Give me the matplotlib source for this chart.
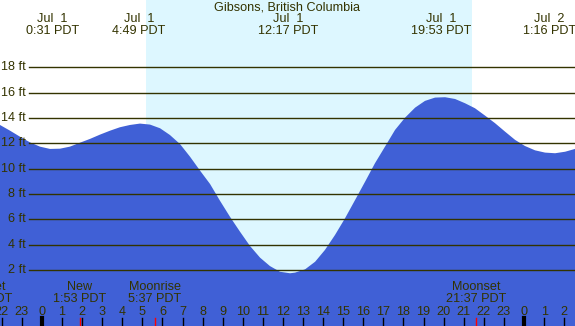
#Librerias
import matplotlib.pyplot as plt
import matplotlib.transforms as mtransforms

#Datos de la marea (hora desde la medianoche del 1 de julio, pies)
horas = [-2.09, -1.59, -1.10, -0.60, -0.10, 0.40, 0.90, 1.39, 1.89, 2.39,
         2.89, 3.39, 3.88, 4.38, 4.88, 5.38, 5.88, 6.37, 6.87, 7.37,
         7.87, 8.37, 8.86, 9.36, 9.86, 10.36, 10.86, 11.35, 11.85, 12.35,
         12.60, 13.10, 13.60, 14.09, 14.59, 15.09, 15.59, 16.09, 16.58, 17.08,
         17.58, 18.08, 18.58, 19.07, 19.57, 20.07, 20.57, 21.07, 21.56, 22.06,
         22.56, 23.06, 23.56, 24.05, 24.55, 25.05, 25.55, 26.05, 26.54]
marea = [13.44, 12.99, 12.52, 12.07, 11.73, 11.55, 11.57, 11.73, 12.04, 12.34,
         12.68, 12.99, 13.26, 13.44, 13.55, 13.47, 13.18, 12.65, 11.94, 10.94,
         9.84, 8.78, 7.47, 6.20, 5.02, 3.89, 2.97, 2.31, 1.86, 1.74,
         1.79, 2.05, 2.65, 3.58, 4.76, 6.08, 7.52, 8.97, 10.42, 11.73,
         13.05, 14.02, 14.81, 15.34, 15.60, 15.63, 15.49, 15.15, 14.76, 14.18,
         13.58, 12.91, 12.26, 11.78, 11.44, 11.26, 11.21, 11.33, 11.55]

#Pleamar y bajamar
horas_extremos = [0.517, 4.817, 12.283, 19.883, 25.267]
fechas_extremos = ["Jul  1", "Jul  1", "Jul  1", "Jul  1", "Jul  2"]
textos_extremos = ["0:31 PDT", "4:49 PDT", "12:17 PDT", "19:53 PDT", "1:16 PDT"]

#Luna
horas_luna = [-3.0, 1.883, 5.617, 21.617]
nombres_luna = ["Moonset", "New", "Moonrise", "Moonset"]
textos_luna = ["20:57 PDT", "1:53 PDT", "5:37 PDT", "21:37 PDT"]

#Amanecer y atardecer
amanecer = 5.18
atardecer = 21.41

niveles = [2, 4, 6, 8, 10, 12, 14, 16, 18]
horas_ticks = list(range(-2, 27))

titulo = "Gibsons, British Columbia"

#Colores
c_noche = "#b0c4de"
c_dia = "#ddf7ff"
c_agua = "#4060d6"
c_texto = "#333300"

plt.rcParams['font.family'] = ['Liberation Sans', 'DejaVu Sans']
fs = 9.1

fig = plt.figure(figsize=(5.75, 3.26), dpi=100)
ax = fig.add_axes([0, 0, 1, 1])
ax.set_xlim(-2.09, 26.54)
ax.set_ylim(-2.42, 23.3)
ax.set_facecolor(c_noche)
ax.axvspan(amanecer, atardecer, color=c_dia, lw=0)

#Agua
ax.fill_between(horas, marea, -5, color=c_agua, lw=0)

#Lineas de nivel
for n in niveles:
    ax.plot([-0.65, 26.54], [n, n], color=c_texto, lw=1.0)
    ax.text(-0.8, n, "%d ft" % n, ha="right", va="center", fontsize=fs, color=c_texto)

trans = mtransforms.blended_transform_factory(ax.transData, ax.transAxes)

def py(p):
    # pixel vertical -> fraccion del eje
    return 1 - p / 326.0

#Titulo y extremos
ax.text(12.2, py(7), titulo, transform=trans, ha="center", va="center", fontsize=fs, color=c_texto)
for h, f, t in zip(horas_extremos, fechas_extremos, textos_extremos):
    ax.text(h, py(19.5), f, transform=trans, ha="center", va="center", fontsize=fs, color=c_texto)
    ax.text(h, py(31.5), t, transform=trans, ha="center", va="center", fontsize=fs, color=c_texto)

#Luna
for h, nom, t in zip(horas_luna, nombres_luna, textos_luna):
    ax.text(h, py(287.5), nom, transform=trans, ha="center", va="center", fontsize=fs, color=c_texto)
    ax.text(h, py(299.5), t, transform=trans, ha="center", va="center", fontsize=fs, color=c_texto)
    ax.plot([h, h], [py(318), 0], transform=trans, color="red", lw=1.0)

#Horas
for h in horas_ticks:
    ax.text(h, py(312), str(h % 24), transform=trans, ha="center", va="center", fontsize=fs, color=c_texto)
    grosor = 3.0 if h % 24 == 0 else 1.0
    ax.plot([h, h], [py(318), 0], transform=trans, color="black", lw=grosor)

ax.axis("off")
fig.savefig("out.png", dpi=100)
